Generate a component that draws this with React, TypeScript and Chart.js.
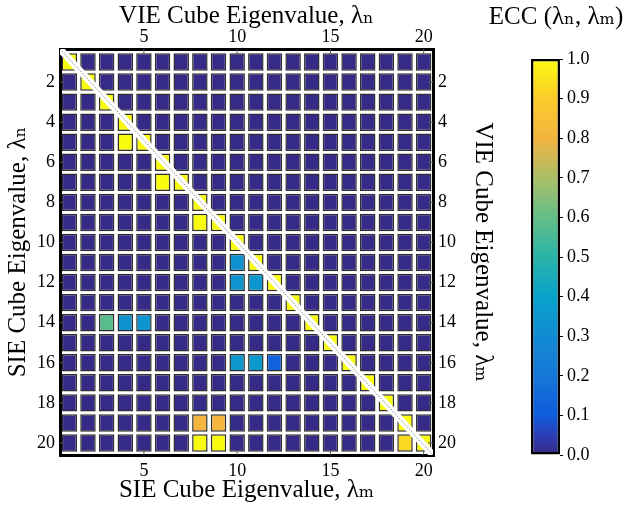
import React, { useEffect, useRef } from 'react';
import { Chart, registerables } from 'chart.js';

Chart.register(...registerables);

const FONT = "'Liberation Serif', 'DejaVu Serif', 'Times New Roman', serif";

// Eigenvalue indices (rows: SIE λn, columns: VIE λm)
const eigenIndex = [1, 2, 3, 4, 5, 6, 7, 8, 9, 10, 11, 12, 13, 14, 15, 16, 17, 18, 19, 20];

// ECC(λn, λm) values, one array per row n
const row01 = [1, 0, 0, 0, 0, 0, 0, 0, 0, 0, 0, 0, 0, 0, 0, 0, 0, 0, 0, 0];
const row02 = [0, 1, 0, 0, 0, 0, 0, 0, 0, 0, 0, 0, 0, 0, 0, 0, 0, 0, 0, 0];
const row03 = [0, 0, 1, 0, 0, 0, 0, 0, 0, 0, 0, 0, 0, 0, 0, 0, 0, 0, 0, 0];
const row04 = [0, 0, 0, 1, 0, 0, 0, 0, 0, 0, 0, 0, 0, 0, 0, 0, 0, 0, 0, 0];
const row05 = [0, 0, 0, 1, 1, 0, 0, 0, 0, 0, 0, 0, 0, 0, 0, 0, 0, 0, 0, 0];
const row06 = [0, 0, 0, 0, 0, 1, 0, 0, 0, 0, 0, 0, 0, 0, 0, 0, 0, 0, 0, 0];
const row07 = [0, 0, 0, 0, 0, 1, 1, 0, 0, 0, 0, 0, 0, 0, 0, 0, 0, 0, 0, 0];
const row08 = [0, 0, 0, 0, 0, 0, 0, 1, 0, 0, 0, 0, 0, 0, 0, 0, 0, 0, 0, 0];
const row09 = [0, 0, 0, 0, 0, 0, 0, 1, 1, 0, 0, 0, 0, 0, 0, 0, 0, 0, 0, 0];
const row10 = [0, 0, 0, 0, 0, 0, 0, 0, 0, 1, 0, 0, 0, 0, 0, 0, 0, 0, 0, 0];
const row11 = [0, 0, 0, 0, 0, 0, 0, 0, 0, 0.33, 1, 0, 0, 0, 0, 0, 0, 0, 0, 0];
const row12 = [0, 0, 0, 0, 0, 0, 0, 0, 0, 0.34, 0.35, 1, 0, 0, 0, 0, 0, 0, 0, 0];
const row13 = [0, 0, 0, 0, 0, 0, 0, 0, 0, 0, 0, 0, 1, 0, 0, 0, 0, 0, 0, 0];
const row14 = [0, 0, 0.58, 0.33, 0.34, 0, 0, 0, 0, 0, 0, 0, 0, 1, 0, 0, 0, 0, 0, 0];
const row15 = [0, 0, 0, 0, 0, 0, 0, 0, 0, 0, 0, 0, 0, 0, 1, 0, 0, 0, 0, 0];
const row16 = [0, 0, 0, 0, 0, 0, 0, 0, 0, 0.35, 0.36, 0.12, 0, 0, 0, 1, 0, 0, 0, 0];
const row17 = [0, 0, 0, 0, 0, 0, 0, 0, 0, 0, 0, 0, 0, 0, 0, 0, 1, 0, 0, 0];
const row18 = [0, 0, 0, 0, 0, 0, 0, 0, 0, 0, 0, 0, 0, 0, 0, 0, 0, 1, 0, 0];
const row19 = [0, 0, 0, 0, 0, 0, 0, 0.81, 0.81, 0, 0, 0, 0, 0, 0, 0, 0, 0, 1, 0];
const row20 = [0, 0, 0, 0, 0, 0, 0, 1, 1, 0, 0, 0, 0, 0, 0, 0, 0, 0, 0.93, 1];

const eccRows = [row01, row02, row03, row04, row05, row06, row07, row08, row09, row10,
  row11, row12, row13, row14, row15, row16, row17, row18, row19, row20];

// Tick labels
const xTickValues = [5, 10, 15, 20];
const yTickValues = [2, 4, 6, 8, 10, 12, 14, 16, 18, 20];
const cbTickValues = [0, 0.1, 0.2, 0.3, 0.4, 0.5, 0.6, 0.7, 0.8, 0.9, 1.0];

// Axis ranges
const X_MIN = 0.5;
const X_MAX = 20.5;
const Y_MIN = 0.35;
const Y_MAX = 20.6;
const CB_MIN = 0;
const CB_MAX = 1;

// Cell geometry (fraction of a unit cell)
const CELL_W = 0.83;
const CELL_H = 0.87;

// Parula-like colormap
const cmapPos = [0, 0.05, 0.1, 0.2, 0.3, 0.4, 0.5, 0.6, 0.7, 0.8, 0.9, 1];
const cmapHex = ['#352A87', '#2E3DB5', '#0F5CDD', '#1677D6', '#138BD3', '#07A3CA', '#2AB4A8',
  '#64BE86', '#ABBE68', '#F3B440', '#FBCB2B', '#F9FB0E'];

function hexToRgb(h: string) {
  const v = parseInt(h.slice(1), 16);
  return [(v >> 16) & 255, (v >> 8) & 255, v & 255];
}
const cmapRgb = cmapHex.map(hexToRgb);

function cmap(v: number): string {
  const t = Math.max(0, Math.min(1, v));
  let k = 0;
  while (k < cmapPos.length - 2 && t > cmapPos[k + 1]) k++;
  const f = (t - cmapPos[k]) / (cmapPos[k + 1] - cmapPos[k]);
  const a = cmapRgb[k];
  const b = cmapRgb[k + 1];
  const c = a.map((x, i) => Math.round(x + (b[i] - x) * f));
  return `rgb(${c[0]},${c[1]},${c[2]})`;
}

const tickFont = { family: FONT, size: 18 };
const titleFont = { family: FONT, size: 25, weight: 'normal' as const };

const innerTicks = {
  id: 'innerTicks',
  afterDraw(chart: any) {
    const { ctx, chartArea: a } = chart;
    const L = 5;
    ctx.save();
    ctx.strokeStyle = '#555';
    ctx.lineWidth = 1;
    ctx.beginPath();
    for (const v of xTickValues) {
      const pb = chart.scales.x.getPixelForValue(v);
      ctx.moveTo(pb, a.bottom);
      ctx.lineTo(pb, a.bottom - L);
      const pt = chart.scales.x2.getPixelForValue(v);
      ctx.moveTo(pt, a.top);
      ctx.lineTo(pt, a.top + L);
    }
    for (const v of yTickValues) {
      const pl = chart.scales.y.getPixelForValue(v);
      ctx.moveTo(a.left, pl);
      ctx.lineTo(a.left + L, pl);
      const pr = chart.scales.y2.getPixelForValue(v);
      ctx.moveTo(a.right, pr);
      ctx.lineTo(a.right - L, pr);
    }
    ctx.stroke();
    ctx.restore();
  },
};

function mainConfig(): any {
  const datasets: any[] = eccRows.map((row, i) => {
    const n = eigenIndex[i];
    return {
      type: 'bar',
      data: row.map((_v, j) => ({ x: eigenIndex[j], y: [n - CELL_H / 2, n + CELL_H / 2] })),
      backgroundColor: row.map((v) => cmap(v)),
      borderColor: '#2f2f2f',
      borderWidth: 1.5,
      borderSkipped: false,
      inflateAmount: 0,
      grouped: false,
      barPercentage: CELL_W,
      categoryPercentage: 1,
      order: 2,
      xAxisID: 'x',
      yAxisID: 'y',
    };
  });
  const diag = [{ x: X_MIN, y: Y_MIN }, { x: X_MAX, y: Y_MAX }];
  datasets.push({
    type: 'line', data: diag, borderColor: '#ffffff', borderWidth: 7, pointRadius: 0,
    clip: 0, order: 1, xAxisID: 'x', yAxisID: 'y',
  });
  datasets.push({
    type: 'line', data: diag, borderColor: '#8a8a8a', borderWidth: 1, borderDash: [1.5, 1.5],
    pointRadius: 0, clip: 0, order: 0, xAxisID: 'x', yAxisID: 'y',
  });

  const common = {
    type: 'linear',
    z: 1,
    grid: { display: false, drawTicks: false, lineWidth: 3 },
    border: { display: true, color: '#000', width: 3 },
  };
  const xTicks = (s: any) => { s.ticks = xTickValues.map((value) => ({ value })); };
  const yTicks = (s: any) => { s.ticks = yTickValues.map((value) => ({ value })); };

  return {
    type: 'bar',
    data: { datasets },
    options: {
      responsive: false,
      animation: false,
      layout: { padding: 0 },
      plugins: { legend: { display: false }, tooltip: { enabled: false } },
      scales: {
        x: {
          ...common, position: 'bottom', min: X_MIN, max: X_MAX, offset: false,
          afterBuildTicks: xTicks,
          afterFit: (s: any) => { s.height = 50; },
          ticks: { padding: 5, font: tickFont, color: '#000', maxRotation: 0, autoSkip: false },
          title: { display: true, text: 'SIE Cube Eigenvalue, λₘ', font: titleFont, color: '#000', padding: { top: 0, bottom: 0 } },
        },
        x2: {
          ...common, position: 'top', min: X_MIN, max: X_MAX, offset: false,
          afterBuildTicks: xTicks,
          afterFit: (s: any) => { s.height = 49; },
          ticks: { padding: 1, font: tickFont, color: '#000', maxRotation: 0, autoSkip: false },
          title: { display: true, text: 'VIE Cube Eigenvalue, λₙ', font: titleFont, color: '#000', padding: { top: 1, bottom: 0 } },
        },
        y: {
          ...common, position: 'left', reverse: true, min: Y_MIN, max: Y_MAX,
          afterBuildTicks: yTicks,
          afterFit: (s: any) => { s.width = 60; },
          ticks: { padding: 5, font: tickFont, color: '#000', autoSkip: false },
          title: { display: true, text: 'SIE Cube Eigenvalue, λₙ', font: titleFont, color: '#000', padding: { top: 3, bottom: 0 } },
        },
        y2: {
          ...common, position: 'right', reverse: true, min: Y_MIN, max: Y_MAX,
          afterBuildTicks: yTicks,
          afterFit: (s: any) => { s.width = 67; },
          ticks: { padding: 5, font: tickFont, color: '#000', autoSkip: false },
          title: { display: true, text: 'VIE Cube Eigenvalue, λₘ', font: titleFont, color: '#000', padding: { top: 2, bottom: 0 } },
        },
      },
    },
    plugins: [innerTicks],
  };
}

function cbConfig(): any {
  return {
    type: 'bar',
    data: {
      labels: ['ECC'],
      datasets: [{
        data: [[CB_MIN, CB_MAX]],
        backgroundColor: (c: any) => {
          const chart = c.chart;
          const ys = chart.scales && chart.scales.y;
          if (!chart.chartArea || !ys) return cmap(0.5);
          const y0 = ys.getPixelForValue(CB_MIN);
          const y1 = ys.getPixelForValue(CB_MAX);
          const g = chart.ctx.createLinearGradient(0, y0, 0, y1);
          for (let k = 0; k <= 100; k++) {
            const t = k / 100;
            g.addColorStop(t, cmap(CB_MIN + t * (CB_MAX - CB_MIN)));
          }
          return g;
        },
        borderColor: '#000',
        borderWidth: 2.5,
        borderSkipped: false,
        barPercentage: 1,
        categoryPercentage: 1,
        inflateAmount: 0,
        yAxisID: 'y',
      }],
    },
    options: {
      responsive: false,
      animation: false,
      layout: { padding: { left: 0, right: 0, top: 0, bottom: 50 } },
      plugins: {
        legend: { display: false },
        tooltip: { enabled: false },
        title: {
          display: true, text: 'ECC (λₙ, λₘ)', font: titleFont, color: '#000',
          padding: { top: 2, bottom: 27 },
        },
      },
      scales: {
        x: { display: false },
        yl: {
          type: 'linear', position: 'left', min: CB_MIN, max: CB_MAX, display: true,
          ticks: { display: false },
          grid: { display: false, drawTicks: false },
          border: { display: false },
          afterFit: (s: any) => { s.width = 46; },
        },
        y: {
          position: 'right', min: CB_MIN, max: CB_MAX,
          afterBuildTicks: (s: any) => { s.ticks = cbTickValues.map((value) => ({ value })); },
          afterFit: (s: any) => { s.width = 67; },
          ticks: {
            padding: 4, font: tickFont, color: '#000', autoSkip: false,
            callback: (v: any) => Number(v).toFixed(1),
          },
          grid: { display: true, drawOnChartArea: false, drawTicks: true, tickLength: 3, color: '#000', lineWidth: 1 },
          border: { display: false },
        },
      },
    },
  };
}

export default function App() {
  const mainRef = useRef<HTMLCanvasElement>(null);
  const cbRef = useRef<HTMLCanvasElement>(null);

  useEffect(() => {
    const c1 = new Chart(mainRef.current as HTMLCanvasElement, mainConfig());
    const c2 = new Chart(cbRef.current as HTMLCanvasElement, cbConfig());
    return () => {
      c1.destroy();
      c2.destroy();
    };
  }, []);

  return (
    <div style={{ position: 'absolute', left: 0, top: 0, width: 627, height: 505, background: '#fff' }}>
      <canvas ref={mainRef} width={500} height={505} style={{ position: 'absolute', left: 0, top: 0 }} />
      <canvas ref={cbRef} width={142} height={505} style={{ position: 'absolute', left: 485, top: 0 }} />
    </div>
  );
}
